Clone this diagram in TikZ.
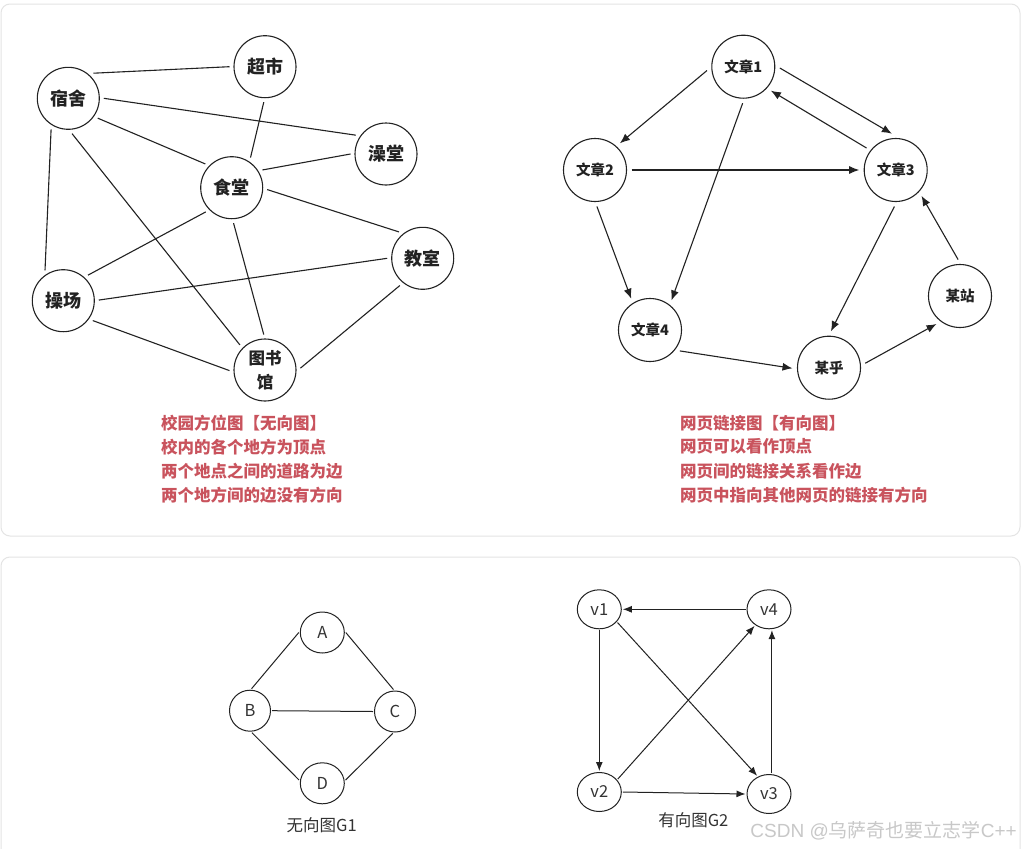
\documentclass[tikz,border=0pt]{standalone}
\usepackage{fontspec}
\setmainfont{Noto Sans CJK SC}
\newfontfamily\wmlatin{Liberation Sans}
\usetikzlibrary{arrows.meta,shapes.geometric}
\definecolor{redtxt}{HTML}{C9535D}
\definecolor{panel}{HTML}{E4E4E4}
\definecolor{ink}{HTML}{222222}
\definecolor{gtxt}{HTML}{333333}
\definecolor{wm}{HTML}{C8C8C8}
\tikzset{
  placenode/.style={circle,draw=ink,line width=1.1pt,minimum size=62pt,inner sep=0pt,outer sep=4.5pt,
    font=\fontsize{18}{20}\selectfont\bfseries,text=ink},
  pagenode/.style={circle,draw=ink,line width=1.1pt,minimum size=63pt,inner sep=0pt,outer sep=5pt,
    font=\fontsize{14.5}{16}\selectfont\bfseries,text=ink},
  gnode/.style={ellipse,draw=ink,line width=1pt,minimum width=44pt,minimum height=41pt,inner sep=0pt,outer sep=1.5pt,
    font=\fontsize{16.5}{18}\selectfont,text=gtxt},
  linkline/.style={draw=ink,line width=1.1pt},
  arrline/.style={draw=ink,line width=1.1pt,-{Latex[length=10pt,width=8pt]}},
  arrtwo/.style={draw=ink,line width=1pt,-{Latex[length=9pt,width=7pt]}},
  notetxt/.style={anchor=west,text=redtxt,font=\fontsize{16.5}{18}\selectfont\bfseries,inner sep=0pt},
  captxt/.style={text=gtxt,font=\fontsize{16.5}{18}\selectfont,inner sep=0pt},
  panelbox/.style={draw=panel,line width=1pt,rounded corners=9pt}
}
\begin{document}
\begin{tikzpicture}[x=1pt,y=-1pt]
\useasboundingbox (0,0) rectangle (1021,849);
\fill[white] (0,0) rectangle (1021,849);
% panels
\draw[panelbox] (1,4) rectangle (1020,536);
\draw[panelbox] (1,849) -- (1,557) -- (1020,557) -- (1020,849);

% ---------- campus graph ----------
\node[placenode] (ss) at (68.3,98.3) {宿舍};
\node[placenode] (cs) at (265,66.7) {超市};
\node[placenode] (zt) at (386,154) {澡堂};
\node[placenode] (st) at (231.7,187.7) {食堂};
\node[placenode] (js) at (422.7,258.3) {教室};
\node[placenode] (cc) at (63.3,300.7) {操场};
\node[placenode,font=\fontsize{16.5}{24}\selectfont\bfseries,align=center] (tsg) at (265,370) {图书\\馆};

\draw[linkline] (ss.45) -- (cs.180);
\draw[linkline] (ss.0) -- (zt.148);
\draw[linkline] (ss.-34) -- (st.138);
\draw[linkline] (ss.241) -- (cc.121);
\draw[linkline] (ss.-84) -- (tsg.135);
\draw[linkline] (cs.268) -- (st.58);
\draw[linkline] (zt.180) -- (st.30);
\draw[linkline] (st.-3.5) -- (js.132);
\draw[linkline] (st.223) -- (cc.46);
\draw[linkline] (st.-87) -- (tsg.92);
\draw[linkline] (cc.1) -- (js.180);
\draw[linkline] (cc.-34) -- (tsg.181);
\draw[linkline] (tsg.3) -- (js.230);

\node[notetxt] (n1) at (161,422.7) {校园方位图【无向图】};
\node[notetxt] (n2) at (161,446.7) {校内的各个地方为顶点};
\node[notetxt] (n3) at (161,470.7) {两个地点之间的道路为边};
\node[notetxt] (n4) at (161,495) {两个地方间的边没有方向};

% ---------- web graph ----------
\node[pagenode] (w1) at (743.3,66.7) {文章1};
\node[pagenode] (w2) at (595,170) {文章2};
\node[pagenode] (w3) at (895.7,170) {文章3};
\node[pagenode] (w4) at (650,330) {文章4};
\node[pagenode] (mh) at (829,367.7) {某乎};
\node[pagenode] (mz) at (960,296) {某站};

\draw[arrline] (w1.186) -- (w2.47);
\draw[arrline] (w1.-2.6) -- (w3.96);
\draw[arrline] (w3.143) -- (w1.-41.6);
\draw[arrline] (w1.-91.6) -- (w4.54);
\draw[arrline] (w2.0) -- (w3.180);
\draw[arrline] (w2.-87) -- (w4.121);
\draw[arrline] (w3.-92.5) -- (mh.87);
\draw[arrline] (w4.-35) -- (mh.181.5);
\draw[arrline] (mh.7) -- (mz.230.5);
\draw[arrline] (mz.93) -- (w3.-45);

\node[notetxt] (m1) at (680,423.3) {网页链接图【有向图】};
\node[notetxt] (m2) at (680,446.7) {网页可以看作顶点};
\node[notetxt] (m3) at (680,471) {网页间的链接关系看作边};
\node[notetxt] (m4) at (680,495) {网页中指向其他网页的链接有方向};

% ---------- G1 ----------
\node[gnode] (A) at (322.3,632.5) {A};
\node[gnode,minimum width=41pt] (B) at (250,710.7) {B};
\node[gnode,minimum width=41pt] (C) at (395,711.5) {C};
\node[gnode] (D) at (322.3,783.3) {D};
\draw[linkline,line width=1pt] (A.180) -- (B.86);
\draw[linkline,line width=1pt] (A.0) -- (C.94);
\draw[linkline,line width=1pt] (B.0) -- (C.180);
\draw[linkline,line width=1pt] (B.-85) -- (D.172);
\draw[linkline,line width=1pt] (C.-96) -- (D.8);
\node[captxt] (g1) at (321.7,825) {无向图G1};

% ---------- G2 ----------
\node[gnode,minimum height=39pt] (v1) at (599.3,609.3) {v1};
\node[gnode,minimum height=39pt] (v4) at (769,609.3) {v4};
\node[gnode,minimum height=39pt] (v2) at (599.3,792) {v2};
\node[gnode,minimum height=39pt] (v3) at (769,794) {v3};
\draw[arrtwo] (v4.180) -- (v1.0);
\draw[arrtwo] (v1.270) -- (v2.90);
\draw[arrtwo] (v1.-36) -- (v3.123);
\draw[arrtwo] (v2.35) -- (v4.229);
\draw[arrtwo] (v2.0) -- (v3.180);
\draw[arrtwo] (v3.82) -- (v4.-82);
\node[captxt] (g2) at (693.3,820) {有向图G2};

% watermark
\node[text=wm,font=\fontsize{19}{21}\selectfont,anchor=east,inner sep=0pt] (wmk) at (1017,831) {{\wmlatin CSDN @}乌萨奇也要立志学{\wmlatin C++}};
\end{tikzpicture}
\end{document}
